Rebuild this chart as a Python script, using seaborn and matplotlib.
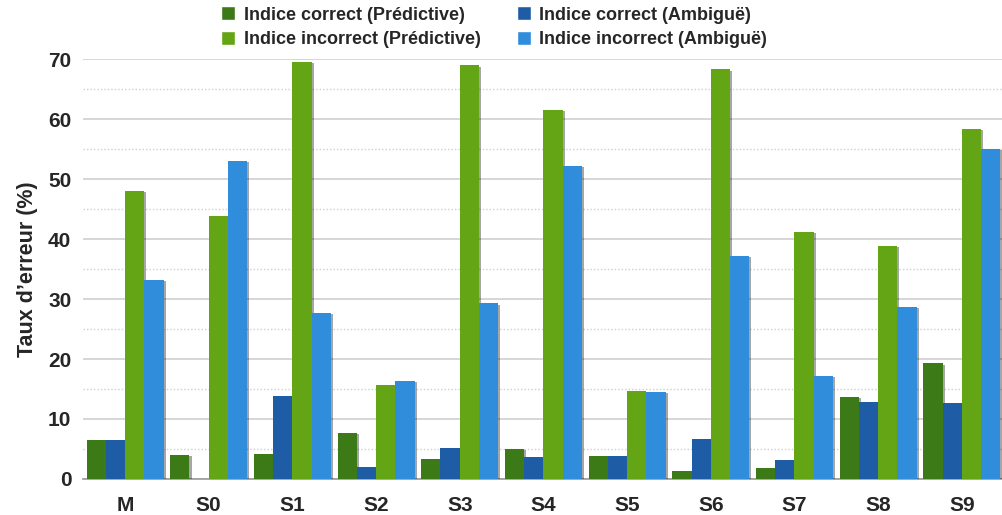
import numpy as np
import pandas as pd
import matplotlib
matplotlib.use("Agg")
import matplotlib.pyplot as plt
import matplotlib.patheffects as pe
from matplotlib.patches import Patch
import seaborn as sns

categories = ["M", "S0", "S1", "S2", "S3", "S4", "S5", "S6", "S7", "S8", "S9"]
correct_pred = [6.5, 4.0, 4.2, 7.7, 3.4, 5.0, 3.9, 1.4, 1.9, 13.7, 19.3]
correct_amb = [6.5, 0.0, 13.8, 2.0, 5.2, 3.6, 3.9, 6.6, 3.2, 12.9, 12.6]
incorrect_pred = [48.1, 43.8, 69.6, 15.7, 69.0, 61.6, 14.7, 68.3, 41.2, 38.9, 58.4]
incorrect_amb = [33.2, 53.1, 27.7, 16.4, 29.3, 52.2, 14.5, 37.2, 17.2, 28.7, 55.1]

series_names = ["Indice correct (Prédictive)", "Indice correct (Ambiguë)",
                "Indice incorrect (Prédictive)", "Indice incorrect (Ambiguë)"]
series_values = [correct_pred, correct_amb, incorrect_pred, incorrect_amb]
colors = ["#3b7a17", "#1e5da6", "#64a515", "#2f8ddc"]

rows = []
for name, vals in zip(series_names, series_values):
    for c, v in zip(categories, vals):
        rows.append({"cat": c, "series": name, "val": v})
df = pd.DataFrame(rows)

sns.set_theme(style="white")
plt.rcParams["font.family"] = ["Liberation Sans", "DejaVu Sans"]

fig = plt.figure(figsize=(10.02, 5.15), dpi=100)
ax = fig.add_axes([0.083, 0.070, 0.917, 0.815])

sns.barplot(data=df, x="cat", y="val", hue="series", hue_order=series_names,
            order=categories, palette=colors, width=0.92, dodge=True,
            saturation=1, ax=ax, legend=False, zorder=3)

for p in ax.patches:
    p.set_path_effects([pe.SimplePatchShadow(offset=(1.5, -1), shadow_rgbFace="black", alpha=0.35),
                        pe.Normal()])
    p.set_linewidth(0)

ax.set_ylim(0, 70)
ax.set_xlim(-0.5, 10.48)
ax.set_yticks(np.arange(0, 71, 10))
ax.set_yticks(np.arange(5, 70, 10), minor=True)
ax.grid(axis="y", which="major", color="#cfcfcf", linewidth=1.2, linestyle="-", zorder=0)
ax.grid(axis="y", which="minor", color="#cfcfcf", linewidth=1.0, linestyle=(0, (1, 1.5)), zorder=0)
ax.set_axisbelow(True)
for s in ["top", "right", "left"]:
    ax.spines[s].set_visible(False)
ax.spines["bottom"].set_color("#9a9a9a")
ax.spines["bottom"].set_linewidth(1.2)
ax.tick_params(axis="y", which="both", length=0, pad=8.5, labelsize=15)
ax.tick_params(axis="x", length=0, pad=12, labelsize=15)
for lab in ax.get_xticklabels() + ax.get_yticklabels():
    lab.set_fontweight("bold")
ax.set_xlabel("")
ax.set_ylabel("Taux d’erreur (%)", fontsize=15.5, fontweight="bold", labelpad=7)

order = [0, 2, 1, 3]
handles = [Patch(facecolor=colors[i], label=series_names[i]) for i in order]
fig.legend(handles=handles, loc="upper left", bbox_to_anchor=(0.2116, 1.005), ncol=2,
           frameon=False, prop={"weight": "bold", "size": 13}, borderpad=0,
           handlelength=0.8, handleheight=0.8, handletextpad=0.45,
           columnspacing=2.0, labelspacing=0.4)

fig.savefig("out.png", dpi=100)
